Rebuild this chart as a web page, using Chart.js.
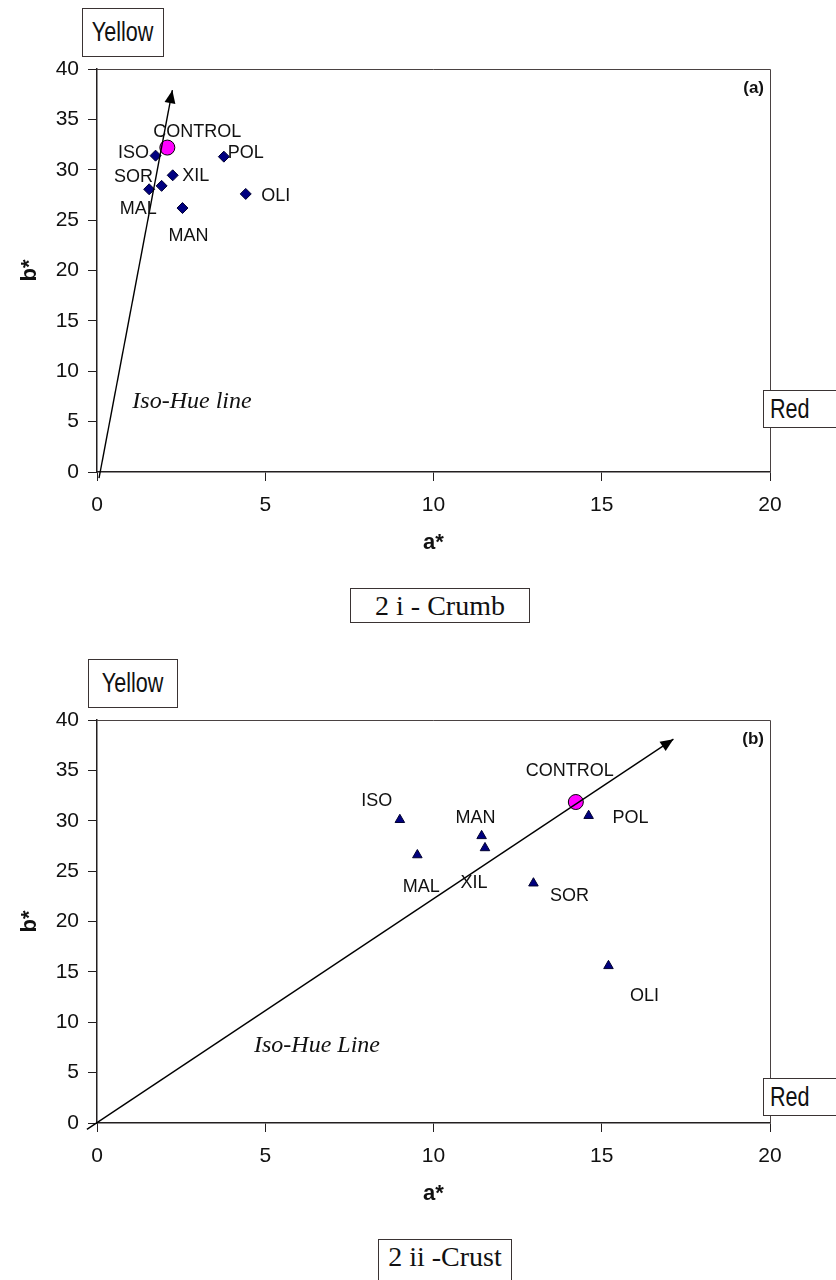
<!DOCTYPE html>
<html>
<head>
<meta charset="utf-8">
<script src="https://cdn.jsdelivr.net/npm/chart.js@4.4.1/dist/chart.umd.min.js"></script>
<style>
  body { margin: 0; background: #fff; }
  #page { position: relative; width: 836px; height: 1280px; overflow: hidden; }
  .panel { position: absolute; left: 0; width: 836px; height: 560px; }
  .box { position: absolute; background: #fff; border: 1px solid #3a3333; box-sizing: border-box;
         text-align: center; color: #111; z-index: 2; white-space: nowrap; }
  .sans { font-family: "Liberation Sans", Arial, sans-serif; font-size: 27px; }
  .sans span { display: inline-block; transform: scaleX(0.8); transform-origin: center; }
  .serif { font-family: "Liberation Serif", "Times New Roman", serif; font-size: 28px; }
</style>
</head>
<body>
<div id="page">
  <div class="panel" style="top:0"><canvas id="crumb" width="836" height="560"></canvas></div>
  <div class="panel" style="top:651px"><canvas id="crust" width="836" height="560"></canvas></div>

  <div class="box sans" style="left:82px; top:8px; width:82px; height:49px; line-height:47px;"><span>Yellow</span></div>
  <div class="box sans" style="left:763px; top:390px; width:90px; height:38px; line-height:36px; text-align:left;"><span style="transform-origin:left; margin-left:6px;">Red</span></div>
  <div class="box serif" style="left:350px; top:588px; width:180px; height:35px; line-height:34px;">2 i - Crumb</div>

  <div class="box sans" style="left:88px; top:659px; width:90px; height:49px; line-height:47px;"><span>Yellow</span></div>
  <div class="box sans" style="left:763px; top:1078px; width:90px; height:38px; line-height:36px; text-align:left;"><span style="transform-origin:left; margin-left:6px;">Red</span></div>
  <div class="box serif" style="left:378px; top:1239px; width:134px; height:50px; line-height:34px;">2 ii -Crust</div>
</div>

<script>
// ---- data ----
const xTicks = [0, 5, 10, 15, 20];
const yTicks = [0, 5, 10, 15, 20, 25, 30, 35, 40];

// 2 i - Crumb
const crumbNames = ['ISO', 'POL', 'XIL', 'SOR', 'MAL', 'OLI', 'MAN'];
const crumbA = [1.74, 3.77, 2.25, 1.92, 1.55, 4.42, 2.54];
const crumbB = [31.4, 31.3, 29.45, 28.4, 28.06, 27.6, 26.2];
const crumbControlA = [2.09];
const crumbControlB = [32.2];
const crumbHueA = [0.06, 2.24];
const crumbHueB = [-0.6, 37.9];

// 2 ii - Crust
const crustNames = ['ISO', 'MAN', 'XIL', 'MAL', 'SOR', 'POL', 'OLI'];
const crustA = [9.0, 11.43, 11.53, 9.52, 12.97, 14.61, 15.2];
const crustB = [30.1, 28.5, 27.3, 26.6, 23.8, 30.5, 15.6];
const crustControlA = [14.23];
const crustControlB = [31.86];
const crustHueA = [-0.3, 17.13];
const crustHueB = [-0.63, 38.1];

// label placement (pixel offsets from each marker)
const crumbLabelOffsets = [[-22, -3], [22, -4], [23, 1], [-28, -9], [-11, 20], [30, 2], [6, 28]];
const crustLabelOffsets = [[-23, -19], [-6, -18], [-11, 35], [4, 32], [36, 13], [42, 2], [36, 30]];

const axisColor = '#231f20';
const navy = '#000080';

function toPoints(xs, ys) {
  return xs.map((v, i) => ({ x: v, y: ys[i] }));
}

const extras = {
  id: 'extras',
  afterDatasetsDraw(chart, args, o) {
    const { ctx, chartArea: ca } = chart;
    ctx.save();
    // frame on top and right
    ctx.strokeStyle = '#4a4242';
    ctx.lineWidth = 1;
    ctx.beginPath();
    ctx.moveTo(ca.left, ca.top + 0.5);
    ctx.lineTo(ca.right + 0.5, ca.top + 0.5);
    ctx.lineTo(ca.right + 0.5, ca.bottom);
    ctx.stroke();

    // arrow head on the iso-hue line
    const line = chart.getDatasetMeta(0).data;
    const p0 = line[0], p1 = line[1];
    const ang = Math.atan2(p1.y - p0.y, p1.x - p0.x);
    const L = 13, W = 5.5;
    ctx.fillStyle = '#000';
    ctx.beginPath();
    ctx.moveTo(p1.x, p1.y);
    ctx.lineTo(p1.x - L * Math.cos(ang) + W * Math.sin(ang), p1.y - L * Math.sin(ang) - W * Math.cos(ang));
    ctx.lineTo(p1.x - L * Math.cos(ang) - W * Math.sin(ang), p1.y - L * Math.sin(ang) + W * Math.cos(ang));
    ctx.closePath();
    ctx.fill();

    // sample labels
    ctx.fillStyle = '#111';
    ctx.font = '18px "Liberation Sans", Arial, sans-serif';
    ctx.textAlign = 'center';
    ctx.textBaseline = 'middle';
    const pts = chart.getDatasetMeta(1).data;
    o.names.forEach((n, i) => {
      ctx.fillText(n, pts[i].x + o.offsets[i][0], pts[i].y + o.offsets[i][1]);
    });
    const c = chart.getDatasetMeta(2).data[0];
    ctx.fillText('CONTROL', c.x + o.controlOffset[0], c.y + o.controlOffset[1]);

    // panel tag
    ctx.font = 'bold 17px "Liberation Sans", Arial, sans-serif';
    ctx.textAlign = 'right';
    ctx.fillText(o.tag, ca.right - 6, ca.top + 19);

    // iso-hue caption
    ctx.font = 'italic 24px "Liberation Serif", "Times New Roman", serif';
    ctx.textAlign = 'center';
    ctx.fillText(o.hueText, ca.left + o.hueTextPos[0], ca.bottom - o.hueTextPos[1]);
    ctx.restore();
  }
};

function makeChart(id, d) {
  const tickFont = { family: '"Liberation Sans", Arial, sans-serif', size: 21 };
  const titleFont = { family: '"Liberation Sans", Arial, sans-serif', size: 22, weight: 'bold' };
  return new Chart(document.getElementById(id), {
    type: 'scatter',
    data: {
      datasets: [
        {
          label: 'Iso-Hue',
          data: toPoints(d.hueA, d.hueB),
          showLine: true,
          borderColor: '#000',
          borderWidth: 1.4,
          pointRadius: 0,
          clip: false
        },
        {
          label: 'samples',
          data: toPoints(d.a, d.b),
          pointStyle: d.marker,
          pointRadius: d.markerSize,
          backgroundColor: navy,
          borderColor: '#000030',
          borderWidth: 1
        },
        {
          label: 'CONTROL',
          data: toPoints(d.ctrlA, d.ctrlB),
          pointStyle: 'circle',
          pointRadius: 7.5,
          backgroundColor: '#ff00ff',
          borderColor: '#000',
          borderWidth: 1
        }
      ]
    },
    options: {
      responsive: false,
      animation: false,
      layout: { padding: { top: 69, right: 66, left: 0, bottom: 0 } },
      plugins: {
        legend: { display: false },
        tooltip: { enabled: false },
        extras: {
          names: d.names,
          offsets: d.offsets,
          controlOffset: d.controlOffset,
          tag: d.tag,
          hueText: d.hueText,
          hueTextPos: d.hueTextPos
        }
      },
      scales: {
        x: {
          type: 'linear',
          min: 0,
          max: 20,
          afterBuildTicks: s => { s.ticks = xTicks.map(v => ({ value: v })); },
          afterFit: s => { s.height = 88; },
          grid: { drawOnChartArea: false, tickLength: 9, color: axisColor, lineWidth: 1 },
          border: { color: axisColor, width: 1.5 },
          ticks: { font: tickFont, color: '#111', padding: 12, maxRotation: 0 },
          title: { display: true, text: 'a*', font: titleFont, color: '#111', padding: { top: 0, bottom: 4 } }
        },
        y: {
          type: 'linear',
          min: 0,
          max: 40,
          afterBuildTicks: s => { s.ticks = yTicks.map(v => ({ value: v })); },
          afterFit: s => { s.width = 97; },
          grid: { drawOnChartArea: false, tickLength: 9, color: axisColor, lineWidth: 1 },
          border: { color: axisColor, width: 1.5 },
          ticks: { font: tickFont, color: '#111', padding: 9 },
          title: { display: true, text: 'b*', font: titleFont, color: '#111', padding: { top: 17, bottom: 0 } }
        }
      }
    },
    plugins: [extras]
  });
}

makeChart('crumb', {
  names: crumbNames, a: crumbA, b: crumbB,
  ctrlA: crumbControlA, ctrlB: crumbControlB,
  hueA: crumbHueA, hueB: crumbHueB,
  marker: 'rectRot', markerSize: 5.5,
  offsets: crumbLabelOffsets, controlOffset: [30, -16],
  tag: '(a)', hueText: 'Iso-Hue line', hueTextPos: [95, 70]
});

makeChart('crust', {
  names: crustNames, a: crustA, b: crustB,
  ctrlA: crustControlA, ctrlB: crustControlB,
  hueA: crustHueA, hueB: crustHueB,
  marker: 'triangle', markerSize: 5.5,
  offsets: crustLabelOffsets, controlOffset: [-6, -31],
  tag: '(b)', hueText: 'Iso-Hue Line', hueTextPos: [220, 77]
});
</script>
</body>
</html>
